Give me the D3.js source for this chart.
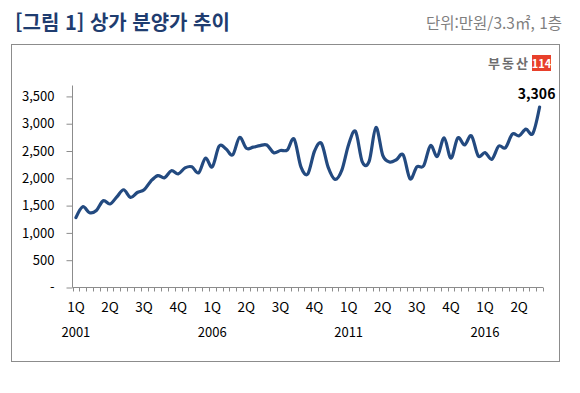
<!DOCTYPE html>
<html lang="ko">
<head>
<meta charset="UTF-8">
<script src="https://d3js.org/d3.v7.min.js"></script>
<style>
body{
	margin: 0;
	background: white;
}
text{
	font-family: "Noto Sans CJK KR", "Noto Sans", sans-serif;
}
</style>
</head>
<body>
<svg width="580" height="393"></svg>
<script>
// quarterly data, 2001 1Q .. 2018 1Q
const years = [2001, 2002, 2003, 2004, 2005, 2006, 2007, 2008, 2009, 2010, 2011, 2012, 2013, 2014, 2015, 2016, 2017, 2018];
const quarterNames = ["1Q", "2Q", "3Q", "4Q"];
const values = [
	1280, 1480, 1370, 1410, 1590, 1530, 1660, 1790, 1650, 1740,
	1790, 1950, 2050, 2010, 2140, 2080, 2190, 2210, 2100, 2370,
	2210, 2590, 2540, 2430, 2750, 2550, 2570, 2600, 2610, 2470,
	2510, 2520, 2720, 2210, 2080, 2500, 2640, 2200, 1980, 2150,
	2620, 2860, 2300, 2310, 2930, 2420, 2300, 2340, 2430, 1990,
	2210, 2230, 2600, 2400, 2740, 2370, 2740, 2610, 2780, 2410,
	2470, 2350, 2590, 2560, 2810, 2780, 2900, 2820, 3306
];
const yTicks = [0, 500, 1000, 1500, 2000, 2500, 3000, 3500];

// build category list: one entry per quarter that has a value
let cats = [];
years.forEach(function(y) {
	quarterNames.forEach(function(q, qi) {
		if (cats.length < values.length) cats.push({year: y, q: q, qi: qi});
	});
});
let data = cats.map(function(c, i) { return {cat: i, year: c.year, q: c.q, v: values[i]}; });

const svg = d3.select("svg");

// title
svg.append("text")
	.attr("x", 15).attr("y", 30)
	.style("font-size", "20px").style("font-weight", "bold")
	.style("fill", "#1f3d70")
	.text("[그림 1] 상가 분양가 추이");

svg.append("text")
	.attr("x", 562).attr("y", 29)
	.attr("text-anchor", "end")
	.style("font-size", "15.5px")
	.style("fill", "#7f7f7f")
	.text("단위:만원/3.3㎡, 1층");

// frame
svg.append("rect")
	.attr("x", 11.5).attr("y", 44.5)
	.attr("width", 548).attr("height", 317)
	.attr("fill", "none").attr("stroke", "#8c8c8c").attr("stroke-width", 1);

// logo
svg.append("text")
	.attr("x", 530).attr("y", 68)
	.attr("text-anchor", "end")
	.style("font-size", "13px").style("font-weight", "bold")
	.style("letter-spacing", "2px")
	.style("fill", "#6e6e6e")
	.text("부동산");
svg.append("rect")
	.attr("x", 532).attr("y", 55).attr("width", 19).attr("height", 16)
	.attr("fill", "#e8402b");
svg.append("text")
	.attr("x", 541.5).attr("y", 67.5)
	.attr("text-anchor", "middle")
	.style("font-size", "11px").style("font-weight", "bold")
	.style("fill", "white")
	.text("114");

// scales
let x = d3.scaleBand()
	.domain(data.map(function(d) { return d.cat; }))
	.range([72.5, 543])
	.padding(0);

let y = d3.scaleLinear()
	.domain([0, 3700])
	.range([287.5, 85.5]);

// y axis
let yAxis = svg.append("g")
	.attr("transform", "translate(72.5,0)")
	.call(d3.axisLeft(y)
		.tickValues(yTicks)
		.tickSizeOuter(0)
		.tickSize(6)
		.tickPadding(12)
		.tickFormat(function(d) { return d == 0 ? "-" : d3.format(",")(d); }));
yAxis.select(".domain").attr("stroke", "#8c8c8c").attr("d", "M0,85.5V287.5");
yAxis.selectAll(".tick line").attr("stroke", "#8c8c8c");
yAxis.selectAll(".tick text")
	.style("font-size", "13px")
	.style("fill", "#000")
	.attr("font-family", null);

// x axis
let xg = svg.append("g").attr("transform", "translate(0,287.5)");
xg.append("line")
	.attr("x1", 72.5).attr("x2", 543)
	.attr("stroke", "#8c8c8c");
let bounds = data.map(function(d) { return x(d.cat); }).concat([x(data.length - 1) + x.bandwidth()]);
xg.selectAll(".xtick")
	.data(bounds)
	.join("line")
	.attr("class", "xtick")
	.attr("x1", function(d) { return Math.round(d) + 0.5; })
	.attr("x2", function(d) { return Math.round(d) + 0.5; })
	.attr("y1", 0).attr("y2", 4)
	.attr("stroke", "#8c8c8c");

// quarter labels every 5th category
xg.selectAll(".qlabel")
	.data(data.filter(function(d) { return d.cat % 5 == 0; }))
	.join("text")
	.attr("class", "qlabel")
	.attr("x", function(d) { return x(d.cat) + x.bandwidth() / 2; })
	.attr("y", 24)
	.attr("text-anchor", "middle")
	.style("font-size", "13.5px")
	.style("fill", "#000")
	.text(function(d) { return d.q; });

// year labels every 5 years
xg.selectAll(".ylabel")
	.data(data.filter(function(d) { return d.cat % 20 == 0; }))
	.join("text")
	.attr("class", "ylabel")
	.attr("x", function(d) { return x(d.cat) + x.bandwidth() / 2; })
	.attr("y", 49)
	.attr("text-anchor", "middle")
	.style("font-size", "13px")
	.style("fill", "#000")
	.text(function(d) { return d.year; });

// line
let line = d3.line()
	.x(function(d) { return x(d.cat) + x.bandwidth() / 2; })
	.y(function(d) { return y(d.v); })
	.curve(d3.curveCardinal.tension(0));

svg.append("path")
	.datum(data)
	.attr("d", line)
	.attr("fill", "none")
	.attr("stroke", "#234a80")
	.attr("stroke-width", 3.2)
	.attr("stroke-linejoin", "round")
	.attr("stroke-linecap", "round");

// last value label
let last = data[data.length - 1];
svg.append("text")
	.attr("x", x(last.cat) + x.bandwidth() / 2 - 3)
	.attr("y", y(last.v) - 8)
	.attr("text-anchor", "middle")
	.style("font-size", "14px").style("font-weight", "bold")
	.style("fill", "#000")
	.text(d3.format(",")(last.v));
</script>
</body>
</html>
